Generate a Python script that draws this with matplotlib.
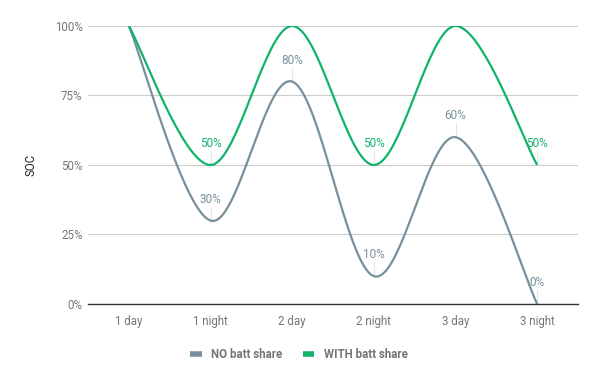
import numpy as np
import matplotlib
matplotlib.use('Agg')
from matplotlib import pyplot as plt

plt.rcParams['font.family'] = ['Roboto', 'DejaVu Sans']

categories = ['1 day', '1 night', '2 day', '2 night', '3 day', '3 night']
no_share = [100, 30, 80, 10, 60, 0]
with_share = [100, 50, 100, 50, 100, 50]
y_ticks = [0, 25, 50, 75, 100]

grey = '#78909c'
green = '#11b36b'
text_grey = '#757575'


def smooth(xs, ys, k=1 / 6.0, n=40):
    # bezier smoothing through the points, like the sheets "smooth" line
    pts = np.column_stack([xs, ys]).astype(float)
    out = []
    for i in range(len(pts) - 1):
        p0, p1 = pts[i], pts[i + 1]
        prev = pts[i - 1] if i > 0 else p0
        nxt = pts[i + 2] if i + 2 < len(pts) else p1
        c1 = p0 + (p1 - prev) * k
        c2 = p1 - (nxt - p0) * k
        t = np.linspace(0, 1, n)[:, None]
        seg = ((1 - t) ** 3) * p0 + 3 * ((1 - t) ** 2) * t * c1 + 3 * (1 - t) * t ** 2 * c2 + t ** 3 * p1
        out.append(seg if i == 0 else seg[1:])
    seg = np.vstack(out)
    return seg[:, 0], seg[:, 1]


fig = plt.figure(figsize=(6, 3.71), dpi=100)
ax = fig.add_axes([0.1467, 0.1806, 0.8167, 0.7494])

x = np.arange(len(categories))
for vals, col, lab in [(no_share, grey, 'NO batt share'), (with_share, green, 'WITH batt share')]:
    sx, sy = smooth(x, vals)
    ax.plot(sx, sy, color=col, lw=1.6, label=lab, solid_capstyle='butt', zorder=3)
    for i, v in enumerate(vals):
        if i == 0 or v >= 100:
            continue
        ax.plot([x[i], x[i]], [v, v + 5], color='#e6e6e6', lw=0.8, zorder=2)
        ax.text(x[i], v + 5.3, f'{v}%', ha='center', va='bottom', fontsize=8.5, color=col, zorder=4)

ax.set_xlim(-0.5, 5.5)
ax.set_ylim(0, 100)
ax.set_xticks(x)
ax.set_xticklabels(categories)
ax.set_yticks(y_ticks)
ax.set_yticklabels([f'{t}%' for t in y_ticks])
ax.tick_params(length=0, labelsize=8.3, colors=text_grey, pad=8)
ax.tick_params(axis='y', pad=4)
ax.grid(axis='y', color='#cccccc', lw=0.8)
ax.set_axisbelow(True)
for s in ['top', 'right', 'left']:
    ax.spines[s].set_visible(False)
ax.spines['bottom'].set_color('#333333')
ax.spines['bottom'].set_linewidth(1)
ax.spines['bottom'].set_zorder(5)
ax.set_ylabel('SOC', fontsize=8.3, color='#222222', labelpad=12)

leg = ax.legend(loc='upper center', bbox_to_anchor=(0.43, -0.12), ncol=2, frameon=False,
                handlelength=1.0, handletextpad=0.8, columnspacing=1.8, fontsize=8.3)
for h in leg.get_lines():
    h.set_linewidth(4)
for t in leg.get_texts():
    t.set_color(text_grey)
    t.set_fontweight('bold')

fig.savefig('out.png', dpi=100)
